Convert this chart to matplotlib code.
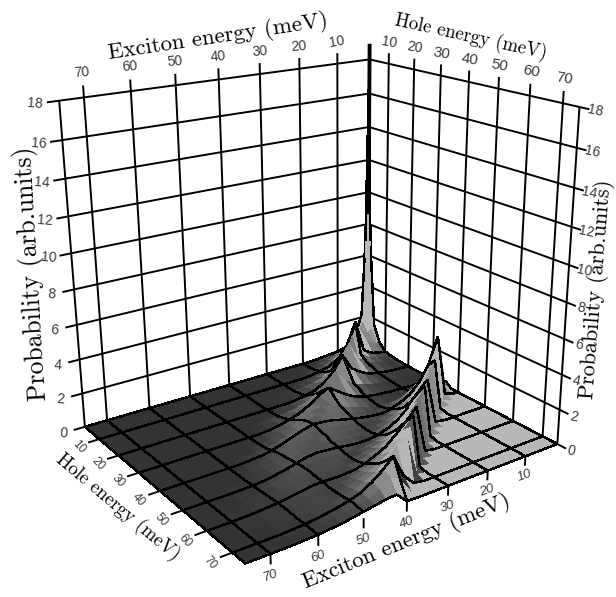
import numpy as np
import matplotlib
matplotlib.use("Agg")
import matplotlib.pyplot as plt
from mpl_toolkits.mplot3d import proj3d
from mpl_toolkits.mplot3d.art3d import Poly3DCollection

# axis ends and camera found by fitting the wall corners of the picture
e_lo, e_hi, h_lo, h_hi = 1.1869, 75.0943, 2.0677, 74.7739

exciton_ticks = [10, 20, 30, 40, 50, 60, 70]
hole_ticks = [10, 20, 30, 40, 50, 60, 70]
prob_ticks = [0, 2, 4, 6, 8, 10, 12, 14, 16, 18]

exciton_levels = [e_lo, 2, 3, 5, 7.5, 10, 12.5, 15, 17.5, 20, 22.5, 25, 27.5, 30, 32.5, 35, 37.5, 40,
                  42.5, 45, 47.5, 50, 52.5, 55, 57.5, 60, 65, 70, e_hi]
hole_levels = [h_lo, 3, 5, 7.5, 10, 12.5, 15, 20, 25, 30, 35, 37.5, 40, 42.5, 45, 47.5, 50, 52.5, 55, 57.5,
               60, 62.5, 65, 67.5, 70, 72.5, h_hi]

# probability, one row per hole level, one column per exciton level (missing tail = 0)
prob_rows = [
    [18.6, 7, 2.2, .8, .3, .15, .1, .05],
    [7, 3.5, 1.8, 1, .5, .25, .1, .05],
    [1.6, 1.4, 1.2, 1.3, 1, .5, .25, .1, .05],
    [.6, .6, .7, .9, 2, 1.2, .6, .3, .1, .05],
    [.2, .2, .25, .35, .7, 2.7, 1.3, .6, .3, .15, .05],
    [.1, .1, .15, .2, .4, .8, 2.2, 1.1, .55, .3, .15, .05],
    [.05, .05, .1, .1, .25, .5, .9, 2, 1.2, .6, .3, .15, .05],
    [0, 0, .05, .05, .1, .2, .3, .6, 1, 2, 1.1, .6, .3, .15, .05],
    [0, 0, 0, 0, .05, .1, .15, .2, .35, .6, 1, 1.7, 1.2, .7, .4, .2, .1, .05],
    [0, 0, 0, 0, 0, .05, .05, .1, .15, .25, .4, .7, 1.1, 1.5, 1.2, .8, .5, .3, .15, .05],
    [.3, .6, 1, .6, .3, .15, .1, .05, .05, .1, .2, .35, .55, .8, 1, 1.15, 1, .75, .5, .3, .15, .05],
    [0, .05, .2, 3, 2.2, 1.3, .8, .5, .3, .2, .2, .3, .45, .65, .85, 1, 1.05, .9, .6, .35, .2, .08],
    [0, 0, .05, .2, 3.9, 2.3, 1.4, .85, .55, .35, .25, .3, .4, .5, .65, .8, .9, .95, .8, .6, .4, .2, .1, .05],
    [0] * 4 + [.15, 2.8, 2, 1.3, .85, .55, .4, .3, .35, .4, .55, .65, .75, .85, .85, .7, .5, .3, .15, .05],
    [0] * 5 + [.12, 2.7, 2.1, 1.4, .9, .6, .4, .35, .35, .45, .55, .65, .75, .8, .7, .55, .35, .2, .1, .03],
    [0] * 6 + [.1, 2.7, 2.1, 1.45, .95, .65, .45, .35, .4, .45, .55, .6, .7, .7, .6, .4, .25, .12, .05],
    [0] * 7 + [.1, 2.8, 2.2, 1.5, 1, .7, .5, .4, .4, .45, .55, .6, .65, .6, .45, .3, .18, .08, .03],
    [0] * 8 + [.1, 2.8, 2.2, 1.55, 1.05, .7, .5, .4, .4, .45, .5, .55, .55, .5, .35, .22, .1, .05],
    [0] * 9 + [.1, 2.8, 2.2, 1.6, 1.1, .75, .55, .45, .4, .45, .5, .5, .5, .4, .28, .15, .08],
    [0] * 10 + [.1, 2.8, 2.2, 1.6, 1.15, .8, .6, .45, .4, .42, .45, .45, .4, .3, .2, .1, .02],
    [0] * 11 + [.1, 2.8, 2.2, 1.65, 1.15, .85, .6, .45, .4, .4, .42, .4, .3, .22, .13, .03],
    [0] * 12 + [.1, 2.7, 2.1, 1.6, 1.15, .85, .6, .45, .38, .36, .35, .28, .2, .12, .03],
    [0] * 13 + [.1, 2.5, 2, 1.5, 1.1, .8, .58, .42, .36, .32, .26, .18, .1, .02],
    [0] * 14 + [.1, 2.3, 2.1, 1.5, 1.05, .75, .52, .38, .3, .22, .14, .07],
    [0] * 15 + [.1, .7, 2, 1.45, 1, .65, .45, .32, .22, .13, .07],
    [0] * 16 + [.08, .9, 1.3, .85, .55, .38, .28, .18, .1, .05],
    [0] * 17 + [.03, .6, .55, .45, .35, .25, .15, .1, .05],
]
threshold_offset = 32.5  # light floor lies where exciton < hole - offset

s, tx, ty = 3195.52, 315.74, 277.52
side = s * 0.185
fig = plt.figure(figsize=(6.16, 5.97), dpi=100)
ax = fig.add_axes([(tx - s * 0.095) / 616, (597 - ty - s * 0.095) / 597, side / 616, side / 597], projection="3d")
ax.set_xlim(e_lo, e_hi, view_margin=0)
ax.set_ylim(h_lo, h_hi, view_margin=0)
ax.set_zlim(0, 18, view_margin=0)
ax.view_init(19.8462, 55.0991, 0.4538)
ax.set_proj_type("persp", focal_length=0.3870)
ax.set_box_aspect((1.0970, 0.9343, 1.0189))
ax.set_axis_off()
ax.computed_zorder = False

LW = 1.4
wall = dict(color="k", lw=LW, zorder=1, solid_capstyle="butt")
# back walls
for z in prob_ticks:
    ax.plot([e_lo, e_hi + 2.5], [h_lo, h_lo], [z, z], **wall)
    ax.plot([e_lo, e_lo], [h_lo, h_hi + 2.8], [z, z], **wall)
for e in exciton_ticks + [e_hi]:
    top = 18.6 if e != e_hi else 18
    ax.plot([e, e], [h_lo, h_lo], [0, top], **wall)
for h in hole_ticks + [h_hi]:
    top = 18.6 if h != h_hi else 18
    ax.plot([e_lo, e_lo], [h, h], [0, top], **wall)
ax.plot([e_lo, e_lo], [h_lo, h_lo], [0, 18.9], **wall)

# surface: cells and 10 meV lines share one depth sort
E = np.array(exciton_levels)
H = np.array(hole_levels)
Z = np.array([r + [0] * (len(E) - len(r)) for r in prob_rows], dtype=float)
M = ax.get_proj()
eye = np.linalg.svd(M[[0, 1, 3]])[2][-1]
eye = eye[:3] / eye[3]

def toward_eye(p, amount=0.016):
    p = np.array(p, dtype=float)
    return p + amount * (eye - p)

verts, faces, edges = [], [], []
clear = (0, 0, 0, 0)
for j in range(len(H) - 1):
    for i in range(len(E) - 1):
        z00, z01, z10, z11 = Z[j, i], Z[j, i + 1], Z[j + 1, i], Z[j + 1, i + 1]
        de = ((z01 - z00) + (z11 - z10)) / 2 / (E[i + 1] - E[i])
        dh = ((z10 - z00) + (z11 - z01)) / 2 / (H[j + 1] - H[j])
        zm = (z00 + z01 + z10 + z11) / 4
        emid, hmid = (E[i] + E[i + 1]) / 2, (H[j] + H[j + 1]) / 2
        if emid < hmid - threshold_offset and zm < 0.3:
            g = 0.72
        elif de > 0.35:  # steep side looking at the viewer
            g = float(np.interp(hmid, [30, 55, 72], [0.66, 0.5, 0.2]))
        else:
            g = 0.2 + 0.13 * min(zm, 2) + 1.0 * min(np.hypot(de, dh), 0.4)
            g = float(np.clip(g, 0.08, 0.72))
        verts.append([(E[i], H[j], z00), (E[i + 1], H[j], z01), (E[i + 1], H[j + 1], z11), (E[i], H[j + 1], z10)])
        faces.append((g, g, g, 1))
        edges.append(clear)
for j, h in enumerate(H):
    if h in hole_ticks or j in (0, len(H) - 1):
        for i in range(len(E) - 1):
            verts.append([toward_eye((E[i], h, Z[j, i])), toward_eye((E[i + 1], h, Z[j, i + 1]))])
            faces.append(clear)
            edges.append((0, 0, 0, 1))
for i, e in enumerate(E):
    if e in exciton_ticks or i in (0, len(E) - 1):
        for j in range(len(H) - 1):
            verts.append([toward_eye((e, H[j], Z[j, i])), toward_eye((e, H[j + 1], Z[j + 1, i]))])
            faces.append(clear)
            edges.append((0, 0, 0, 1))
surface = Poly3DCollection(verts, facecolors=faces, edgecolors=edges, linewidths=1.05, antialiaseds=False,
                           zsort="average")
surface.set_zorder(2)
ax.add_collection3d(surface)

# thick black corner where the spike climbs the walls
ax.plot([e_lo, e_lo], [h_lo, h_lo], [8.6, 18.9], color="k", lw=2.8, zorder=3, solid_capstyle="butt")

# front ticks hang below the floor edge
ticks = dict(color="k", lw=LW, zorder=3, solid_capstyle="butt")
for e in exciton_ticks:
    ax.plot([e, e], [h_hi, h_hi], [0, -0.55], **ticks)
for h in hole_ticks:
    ax.plot([e_hi, e_hi + 2.5], [h, h], [0, 0], **ticks)

def put(e, h, z, label, **kw):
    x, y, _ = proj3d.proj_transform(e, h, z, M)
    ax.text2D(x, y, label, transform=ax.transData, color="#3a3a3a", ha="center", va="center", zorder=4, **kw)

sans = ["Liberation Sans"]
narrow = ["Liberation Sans Narrow", "Liberation Sans"]
for z in prob_ticks:
    put(e_hi + 4.8, h_lo, z, str(z), fontsize=10, rotation=-4, family=sans)
    put(e_lo, h_hi + 4.4, z, str(z), fontsize=10, rotation=-12, family=narrow)
for e in exciton_ticks:
    put(e, h_lo, 19.25, str(e), fontsize=10, rotation=4 if e > 10 else 10, family=sans)
    put(e, h_hi, -1.15, str(e), fontsize=9.5, rotation=20, style="italic", family=sans)
for h in hole_ticks:
    put(e_lo, h, 19.2, str(h), fontsize=10 if h < 30 else 11, rotation=-10, family=narrow)
    put(e_hi + 4.5, h, -0.1, str(h), fontsize=8.5, rotation=-48, family=sans)

title = dict(family="cmr10", color="k", ha="center", va="center", rotation_mode="anchor")
fig.text(218 / 616, 1 - 37 / 597, "Exciton energy (meV)", fontsize=16.5, rotation=8.5, **title)
fig.text(471 / 616, 1 - 37 / 597, "Hole energy (meV)", fontsize=13.5, rotation=-12.5, **title)
fig.text(32 / 616, 1 - 274 / 597, "Probability (arb.units)", fontsize=18.5, rotation=93.4, **title)
fig.text(596 / 616, 1 - 289 / 597, "Probability (arb.units)", fontsize=16, rotation=85.4, **title)
fig.text(118 / 616, 1 - 507 / 597, "Hole energy (meV)", fontsize=13.5, rotation=-40, **title)
fig.text(407 / 616, 1 - 542 / 597, "Exciton energy (meV)", fontsize=16.5, rotation=22, **title)

fig.savefig("out.png", dpi=100)
